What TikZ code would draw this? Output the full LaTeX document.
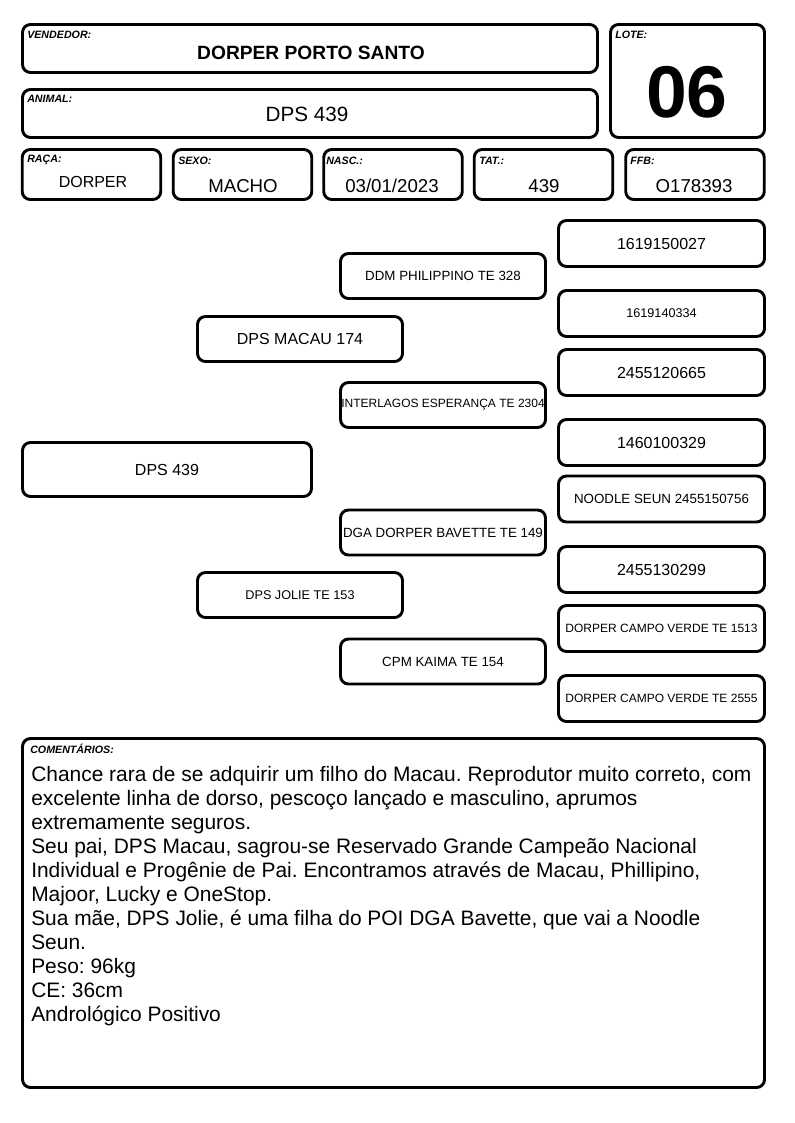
\documentclass[tikz,border=0pt]{standalone}
\usepackage{fontspec}
\setmainfont{Liberation Sans}
\usetikzlibrary{positioning}
\newcommand{\fsz}[1]{\fontsize{#1}{#1}\selectfont}
\frenchspacing

\begin{document}
\begin{tikzpicture}[x=0.75pt, y=-0.75pt,
  cell/.style = {draw, line width=2.2pt, rounded corners=6pt, inner sep=0pt},
  top/.style = {cell, minimum width=431.25pt, minimum height=36pt},
  info/.style = {cell, minimum width=103.9pt, minimum height=37.5pt},
  ped/.style = {cell, minimum width=153.75pt, minimum height=33.75pt},
  far/.style = {cell, minimum width=154.5pt, minimum height=34.5pt},
  tag/.style = {anchor=base west, inner sep=0pt, font=\fsz{8}\bfseries\itshape},
  val/.style = {anchor=base, inner sep=0pt, font=\fsz{14}}]
\useasboundingbox (0,0) rectangle (794,1123);

% header
\node[top] (vend) at (310,48.5) {};
\node[top] (anim) at (310,113.5) {};
\node[cell, minimum width=115.5pt, minimum height=84.75pt] (lote) at (687.5,81) {};
\node[tag] (vendt) at (27,39) {VENDEDOR:};
\node[tag] (animt) at (27,103) {ANIMAL:};
\node[tag] (lotet) at (615,39) {LOTE:};
\node[val, font=\fsz{14.4}\bfseries] (vendv) at (311,60) {DORPER PORTO SANTO};
\node[val, font=\fsz{15.5}] (animv) at (307,122) {DPS 439};
\node[val, font=\fsz{55}\bfseries] (lotev) at (687,118) {06};

\node[info] (raca) at (91.5,174.5) {};
\node[info] (sexo) at (242.5,174.5) {};
\node[info] (nasc) at (393,174.5) {};
\node[info] (tat) at (543.5,174.5) {};
\node[info] (ffb) at (695,174.5) {};
\node[tag] (racat) at (27,163) {RAÇA:};
\node[tag] (sexot) at (178,165) {SEXO:};
\node[tag] (nasct) at (326,165) {NASC.:};
\node[tag] (tatt) at (479,165) {TAT.:};
\node[tag] (ffbt) at (630,165) {FFB:};
\node[val, font=\fsz{12}] (racav) at (93,188) {DORPER};
\node[val] (sexov) at (243,193) {MACHO};
\node[val] (nascv) at (392,193) {03/01/2023};
\node[val] (tatv) at (544,193) {439};
\node[val] (ffbv) at (694,193) {O178393};

% pedigree
\node[cell, minimum width=216.75pt, minimum height=40.5pt, font=\fsz{12}] (p0) at (167,469.5) {DPS 439};
\node[ped, font=\fsz{12}] (s1) at (300,339) {DPS MACAU 174};
\node[ped, font=\fsz{9.5}] (d1) at (300,595) {DPS JOLIE TE 153};
\node[ped, font=\fsz{10}] (ss) at (443,276) {DDM PHILIPPINO TE 328};
\node[ped, font=\fsz{9}] (sd) at (443,405) {INTERLAGOS ESPERANÇA TE 2304};
\node[ped, font=\fsz{10}] (ds) at (443,532.5) {DGA DORPER BAVETTE TE 149};
\node[ped, font=\fsz{10}] (dd) at (443,661.5) {CPM KAIMA TE 154};
\node[far, font=\fsz{12}] (r1) at (661.5,243.5) {1619150027};
\node[far, font=\fsz{9.5}] (r2) at (661.5,313.5) {1619140334};
\node[far, font=\fsz{12}] (r3) at (661.5,372.5) {2455120665};
\node[far, font=\fsz{12}] (r4) at (661.5,442.5) {1460100329};
\node[far, font=\fsz{10}] (r5) at (661.5,499) {NOODLE SEUN 2455150756};
\node[far, font=\fsz{12}] (r6) at (661.5,569.5) {2455130299};
\node[far, font=\fsz{9}] (r7) at (661.5,628.5) {DORPER CAMPO VERDE TE 1513};
\node[far, font=\fsz{9}] (r8) at (661.5,698.5) {DORPER CAMPO VERDE TE 2555};

% comments
\node[cell, minimum width=556.5pt, minimum height=261.75pt] (com) at (393.5,913) {};
\node[tag] (comt) at (30,753) {COMENTÁRIOS:};
\node[anchor=base west, inner sep=0pt, align=left, font=\fontsize{15.7}{18}\selectfont] (comv) at (31,1021)
  {Chance rara de se adquirir um filho do Macau. Reprodutor muito correto, com\\
   excelente linha de dorso, pescoço lançado e masculino, aprumos\\
   extremamente seguros.\\
   Seu pai, DPS Macau, sagrou-se Reservado Grande Campeão Nacional\\
   Individual e Progênie de Pai. Encontramos através de Macau, Phillipino,\\
   Majoor, Lucky e OneStop.\\
   Sua mãe, DPS Jolie, é uma filha do POI DGA Bavette, que vai a Noodle\\
   Seun.\\
   Peso: 96kg\\
   CE: 36cm\\
   Andrológico Positivo};
\end{tikzpicture}
\end{document}
